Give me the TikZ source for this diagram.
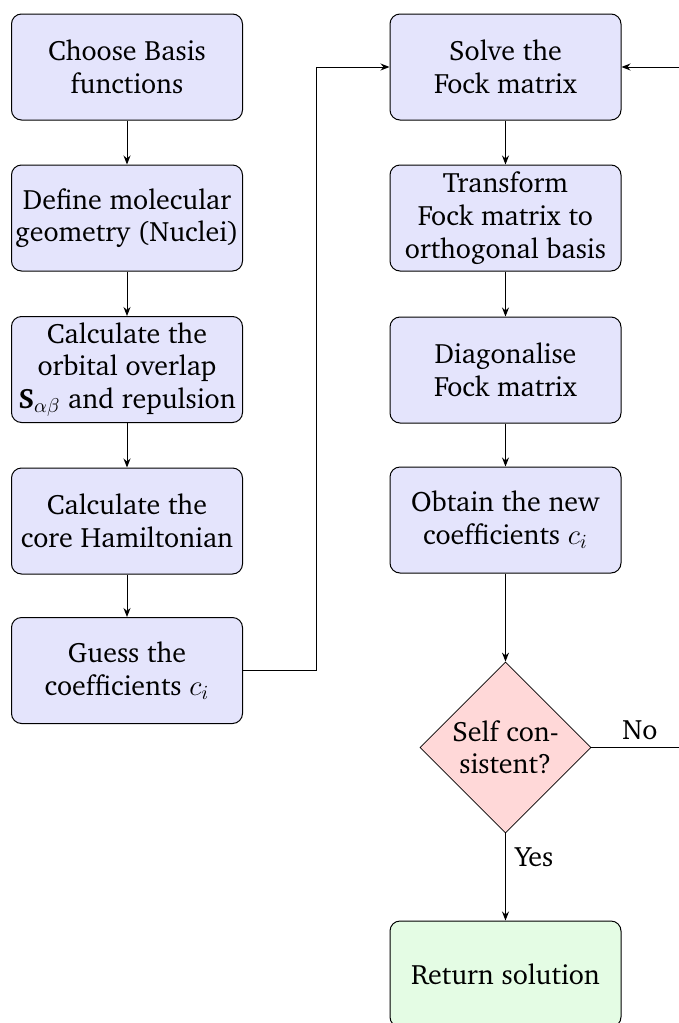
\documentclass[tikz,border=0pt]{standalone}
\usepackage[T1]{fontenc}
\usepackage{charter}
\usetikzlibrary{shapes.geometric,arrows.meta}
\definecolor{boxblue}{RGB}{228,228,252}
\definecolor{boxred}{RGB}{255,216,216}
\definecolor{boxgreen}{RGB}{228,252,228}
\tikzset{
  stepbox/.style={draw, rounded corners=5pt, fill=boxblue, minimum width=115.5pt,
    minimum height=53pt, align=center, inner sep=1pt,
    line width=0.5pt},
  endbox/.style={stepbox, fill=boxgreen},
  decide/.style={draw, diamond, aspect=1, fill=boxred, minimum width=85.5pt,
    minimum height=85.5pt, inner sep=0pt, align=center, line width=0.4pt},
  conn/.style={-{Stealth[length=4.5pt,width=3.5pt]}, line width=0.5pt},
  lbl/.style={inner sep=1pt}
}
\begin{document}
\begin{tikzpicture}[x=0.5pt,y=-0.5pt,font=\fontsize{14}{16.3}\selectfont]
\useasboundingbox (0,0) rectangle (679,1023);
% left column
\node[stepbox] (a) at (127,67) {Choose Basis\\functions};
\node[stepbox] (b) at (127,218) {Define molecular\\geometry (Nuclei)};
\node[stepbox] (c) at (127,369.5) {Calculate the\\orbital overlap\\\textbf{S}$_{\alpha\beta}$ and repulsion};
\node[stepbox] (d) at (127,521) {Calculate the\\core Hamiltonian};
\node[stepbox] (e) at (127,670.5) {Guess the\\coefficients $c_i$};
% right column
\node[stepbox] (f) at (505.5,67) {Solve the\\Fock matrix};
\node[stepbox] (g) at (505.5,218) {Transform\\Fock matrix to\\orthogonal basis};
\node[stepbox] (h) at (505.5,370) {Diagonalise\\Fock matrix};
\node[stepbox] (i) at (505.5,520) {Obtain the new\\coefficients $c_i$};
\node[decide] (j) at (505.5,747.5) {Self con-\\sistent?};
\node[endbox] (k) at (505.5,974) {Return solution};
% connectors
\draw[conn] (a) -- (b);
\draw[conn] (b) -- (c);
\draw[conn] (c) -- (d);
\draw[conn] (d) -- (e);
\coordinate (lp) at (316,670.5);
\draw[conn] (e.east) -- (lp) |- (f.west);
\draw[conn] (f) -- (g);
\draw[conn] (g) -- (h);
\draw[conn] (h) -- (i);
\draw[conn] (i) -- (j);
\draw[conn] (j) -- (k);
\coordinate (rp) at (720,747.5);
\draw[conn] (j.east) -- (rp) |- (f.east);
\node[lbl] (no) at (640,730) {No};
\node[lbl] (yes) at (534,857) {Yes};
\end{tikzpicture}
\end{document}
